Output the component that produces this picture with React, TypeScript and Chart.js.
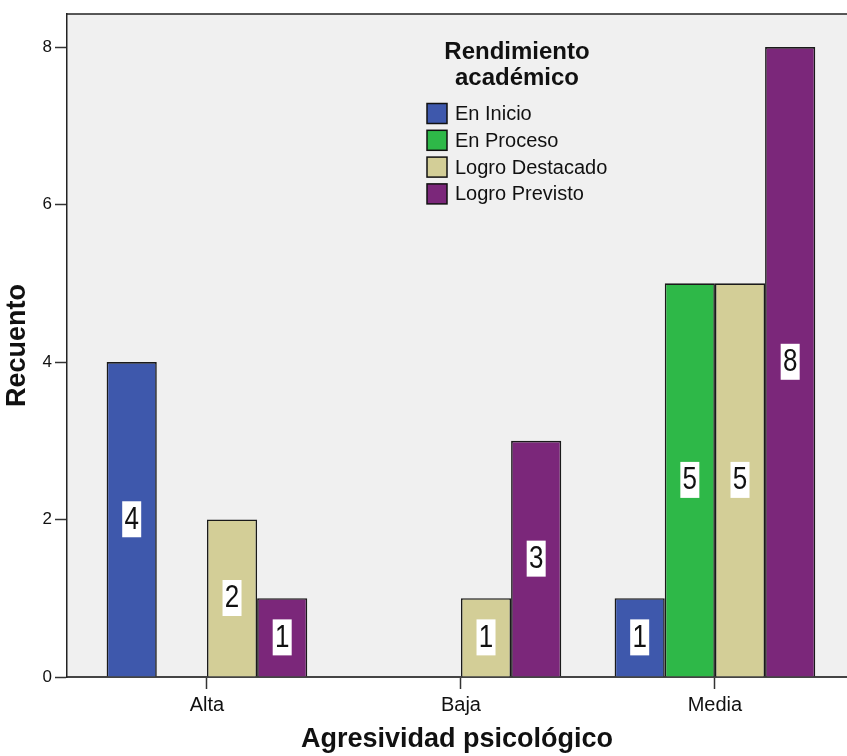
import React, { useEffect, useRef } from "react";
import { Chart, registerables } from "chart.js";

Chart.register(...registerables);

const categories = ["Alta", "Baja", "Media"];
const seriesNames = ["En Inicio", "En Proceso", "Logro Destacado", "Logro Previsto"];
const enInicio: (number | null)[] = [4, null, 1];
const enProceso: (number | null)[] = [null, null, 5];
const logroDestacado: (number | null)[] = [2, 1, 5];
const logroPrevisto: (number | null)[] = [1, 3, 8];
const seriesColors = ["#3E58AC", "#2EB848", "#D3CE97", "#7B277A"];
const yTicks = [0, 2, 4, 6, 8];
const legendTitle = ["Rendimiento", "académico"];
const xTitle = "Agresividad psicológico";
const yTitle = "Recuento";

const FONT = "Arial, 'Liberation Sans', sans-serif";

const bgPlugin = {
  id: "bgPlugin",
  beforeDraw(chart: any) {
    const { ctx, chartArea } = chart;
    ctx.save();
    ctx.fillStyle = "#ffffff";
    ctx.fillRect(0, 0, chart.width, chart.height);
    ctx.fillStyle = "#F0F0F0";
    ctx.fillRect(chartArea.left, chartArea.top, chartArea.right - chartArea.left, chartArea.bottom - chartArea.top);
    ctx.strokeStyle = "#222";
    ctx.lineWidth = 1.5;
    ctx.beginPath();
    ctx.moveTo(chartArea.left, chartArea.top);
    ctx.lineTo(chartArea.right, chartArea.top);
    ctx.stroke();
    ctx.restore();
  },
};

const labelPlugin = {
  id: "labelPlugin",
  afterDatasetsDraw(chart: any) {
    const { ctx } = chart;
    chart.data.datasets.forEach((ds: any, di: number) => {
      const meta = chart.getDatasetMeta(di);
      meta.data.forEach((el: any, i: number) => {
        const v = ds.data[i].y;
        if (v == null || v === 0) return;
        const cx = el.x;
        const cy = (el.y + el.base) / 2;
        const w = 19;
        const h = 36;
        ctx.save();
        ctx.fillStyle = "#ffffff";
        ctx.fillRect(cx - w / 2, cy - h / 2, w, h);
        ctx.translate(cx, cy + 1);
        ctx.scale(1, 1.18);
        ctx.font = `26px ${FONT}`;
        ctx.textAlign = "center";
        ctx.textBaseline = "middle";
        ctx.fillStyle = "#111";
        ctx.fillText(String(v), 0, 0);
        ctx.restore();
      });
    });
  },
};

const legendPlugin = {
  id: "legendPlugin",
  afterDraw(chart: any) {
    const { ctx } = chart;
    ctx.save();
    ctx.fillStyle = "#111";
    ctx.font = `bold 24px ${FONT}`;
    ctx.textAlign = "center";
    ctx.textBaseline = "middle";
    ctx.fillText(legendTitle[0], 517, 52);
    ctx.fillText(legendTitle[1], 517, 78);
    ctx.font = `20px ${FONT}`;
    ctx.textAlign = "left";
    chart.data.datasets.forEach((ds: any, i: number) => {
      const cy = 113.5 + i * 26.8;
      ctx.fillStyle = ds.backgroundColor;
      ctx.fillRect(427, cy - 10, 20, 20);
      ctx.strokeStyle = "#111";
      ctx.lineWidth = 1.5;
      ctx.strokeRect(427, cy - 10, 20, 20);
      ctx.fillStyle = "#111";
      ctx.fillText(ds.label, 455, cy + 1);
    });
    ctx.restore();
  },
};

export default function App() {
  const ref = useRef<HTMLCanvasElement | null>(null);
  useEffect(() => {
    document.body.style.margin = "0";
    const series = [enInicio, enProceso, logroDestacado, logroPrevisto];
    const chart = new Chart(ref.current as HTMLCanvasElement, {
      type: "bar",
      data: {
        datasets: series.map((vals, si) => ({
          label: seriesNames[si],
          data: vals.map((v, i) => ({ x: i, y: v })),
          backgroundColor: seriesColors[si],
          borderColor: "#1a1a1a",
          borderWidth: 1.6,
          categoryPercentage: 0.79,
          barPercentage: 1.0,
        })) as any,
      },
      options: {
        responsive: false,
        animation: false,
        layout: { padding: { top: 14, right: 0, left: 0, bottom: 0 } },
        plugins: {
          legend: { display: false },
          tooltip: { enabled: false },
        },
        scales: {
          x: {
            type: "linear",
            offset: false,
            min: -0.551,
            max: 2.52,
            afterBuildTicks: (scale: any) => {
              scale.ticks = categories.map((_, i) => ({ value: i }));
            },
            afterFit: (scale: any) => {
              scale.height = 79;
            },
            ticks: {
              autoSkip: false,
              maxRotation: 0,
              padding: 4,
              color: "#111",
              font: { family: FONT, size: 20 },
              callback: (v: any) => categories[v] ?? "",
            },
            grid: {
              offset: false,
              drawOnChartArea: false,
              drawTicks: true,
              tickLength: 12,
              tickColor: "#333",
              tickWidth: 1.5,
            },
            border: { display: true, color: "#444", width: 2 },
            title: {
              display: true,
              text: xTitle,
              color: "#111",
              font: { family: FONT, size: 27, weight: "bold" },
              padding: { top: 0, bottom: 0 },
            },
          },
          y: {
            type: "linear",
            min: 0,
            max: 8.42,
            afterBuildTicks: (scale: any) => {
              scale.ticks = yTicks.map((v) => ({ value: v }));
            },
            afterFit: (scale: any) => {
              scale.width = 67;
            },
            ticks: {
              padding: 3,
              color: "#111",
              font: { family: FONT, size: 17 },
            },
            grid: {
              drawOnChartArea: false,
              drawTicks: true,
              tickLength: 12,
              tickColor: "#333",
              tickWidth: 1.5,
            },
            border: { display: true, color: "#222", width: 1.5 },
            title: {
              display: true,
              text: yTitle,
              color: "#111",
              font: { family: FONT, size: 27, weight: "bold" },
              padding: { top: 1, bottom: 0 },
            },
          },
        },
      },
      plugins: [bgPlugin, labelPlugin, legendPlugin],
    });
    return () => chart.destroy();
  }, []);
  return (
    <div style={{ width: 847, height: 756 }}>
      <canvas ref={ref} width={847} height={756} style={{ display: "block" }} />
    </div>
  );
}
